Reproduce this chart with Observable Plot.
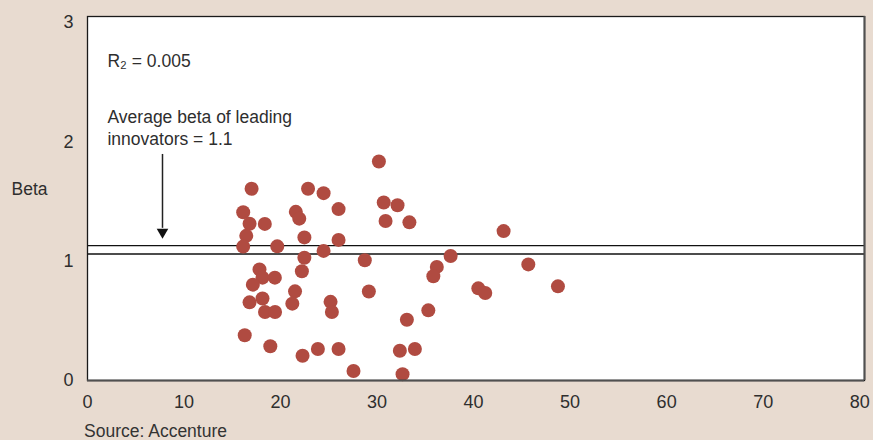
<!DOCTYPE html>
<html>
<head>
<meta charset="utf-8">
<script src="https://cdn.jsdelivr.net/npm/d3@7"></script>
<script src="https://cdn.jsdelivr.net/npm/@observablehq/plot@0.6"></script>
<style>
  html, body { margin: 0; padding: 0; background: #e8dbd0; overflow: hidden; }
  #chart svg { display: block; }
  #source { font-family: "Liberation Sans", Arial, sans-serif; font-size: 17.5px; color: #333; line-height: 27px; padding-left: 84px; }
</style>
</head>
<body>
<div id="chart"></div>
<div id="source">Source: Accenture</div>
<script>
// Scatter data: x value and beta of each company
const xValues = [30.19, 17.0, 22.85, 24.46, 16.13, 21.58, 21.94, 26.01, 30.69, 32.12,
  30.88, 33.35, 16.79, 18.37, 16.45, 22.47, 26.01, 16.13, 19.66, 24.46,
  28.73, 37.62, 22.47, 36.19, 35.83, 17.82, 18.13, 19.41, 22.21, 17.13,
  18.13, 21.50, 29.15, 16.79, 21.22, 25.18, 25.32, 18.39, 19.43, 35.31,
  33.09, 16.29, 18.94, 22.28, 23.87, 26.01, 32.36, 33.92, 27.56, 32.64,
  43.11, 45.67, 40.49, 41.21, 48.74];
const betaValues = [1.835, 1.607, 1.607, 1.570, 1.410, 1.413, 1.356, 1.436, 1.492, 1.469,
  1.337, 1.325, 1.314, 1.312, 1.212, 1.199, 1.178, 1.122, 1.124, 1.086,
  1.007, 1.043, 1.029, 0.952, 0.873, 0.931, 0.862, 0.862, 0.915, 0.803,
  0.687, 0.747, 0.746, 0.655, 0.644, 0.659, 0.574, 0.574, 0.574, 0.588,
  0.509, 0.379, 0.287, 0.208, 0.264, 0.264, 0.249, 0.264, 0.080, 0.053,
  1.252, 0.973, 0.772, 0.733, 0.789];

const xTicks = [0, 10, 20, 30, 40, 50, 60, 70, 80];
const yTicks = [0, 1, 2, 3];
const referenceLines = [1.13, 1.06];

// Annotations (data coordinates)
const r2Label = "R₂ = 0.005";
const r2Pos = {x: 2.07, y: 2.67};
const avgLabel = "Average beta of leading\ninnovators = 1.1";
const avgPos = {x: 2.07, y: 2.128};
const arrow = {x: 7.77, yTop: 1.894, yEnd: 1.275, yHead: 1.243};
const yAxisLabel = "Beta";

const data = xValues.map((x, i) => ({x, beta: betaValues[i]}));

const chart = Plot.plot({
  width: 873,
  height: 418,
  marginLeft: 87,
  marginRight: 9,
  marginTop: 16,
  marginBottom: 38,
  style: {
    background: "transparent",
    fontFamily: "'Liberation Sans', Arial, sans-serif",
    fontSize: "18px",
    color: "#2e2e2e",
    overflow: "visible"
  },
  x: {domain: [0, 80.5], ticks: xTicks, tickFormat: "d", tickSize: 0, tickPadding: 15, label: null},
  y: {domain: [0, 3.05], ticks: yTicks, tickFormat: "d", tickSize: 0, tickPadding: 14, label: null},
  marks: [
    Plot.frame({fill: "white", stroke: null}),
    Plot.ruleY(referenceLines, {stroke: "#111", strokeWidth: 1.3}),
    Plot.dot(data, {x: "x", y: "beta", r: 7, fill: "#b04b41", stroke: null}),
    Plot.ruleX([arrow.x], {y1: arrow.yTop, y2: arrow.yEnd, stroke: "#222", strokeWidth: 1.5}),
    Plot.dot([arrow], {x: "x", y: "yHead", symbol: "triangle", rotate: 180, r: 4.3, fill: "#111", stroke: null}),
    Plot.text([r2Label], {x: [r2Pos.x], y: [r2Pos.y], textAnchor: "start", fill: "#2e2e2e", fontSize: 17.5}),
    Plot.text([avgLabel], {x: [avgPos.x], y: [avgPos.y], textAnchor: "start", lineHeight: 1.26, fill: "#2e2e2e", fontSize: 17.5}),
    Plot.text([yAxisLabel], {y: [1.6], frameAnchor: "left", dx: -76, textAnchor: "start", fill: "#2e2e2e", fontSize: 17.5}),
    Plot.frame({stroke: "#1a1a1a", strokeWidth: 1.3}),
    Plot.ruleY([0], {stroke: "#505050", strokeWidth: 2}),
    Plot.ruleX([80.5], {stroke: "#505050", strokeWidth: 2})
  ]
});
document.getElementById("chart").appendChild(chart);
</script>
</body>
</html>
